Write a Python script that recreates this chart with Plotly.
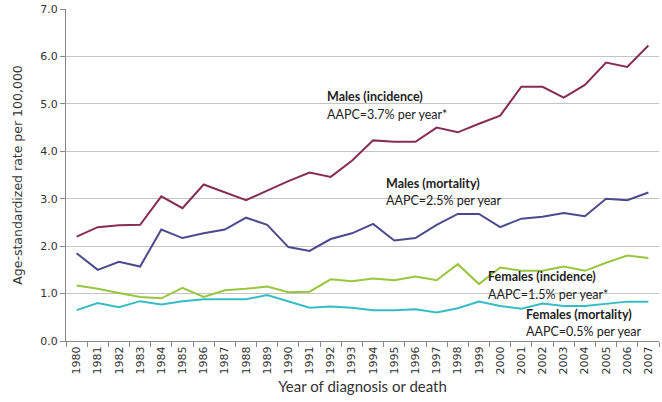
import plotly.graph_objects as go

years = [str(y) for y in range(1980, 2008)]
males_incidence = [2.20, 2.40, 2.44, 2.45, 3.05, 2.80, 3.30, 3.13, 2.97, 3.17, 3.37, 3.55, 3.46, 3.80, 4.23, 4.20, 4.20, 4.50, 4.40, 4.58, 4.75, 5.36, 5.36, 5.13, 5.40, 5.87, 5.78, 6.23]
males_mortality = [1.85, 1.50, 1.67, 1.57, 2.35, 2.17, 2.27, 2.35, 2.60, 2.45, 1.98, 1.90, 2.15, 2.27, 2.47, 2.12, 2.17, 2.45, 2.68, 2.68, 2.40, 2.58, 2.62, 2.70, 2.63, 3.00, 2.97, 3.13]
females_incidence = [1.17, 1.10, 1.01, 0.93, 0.90, 1.12, 0.93, 1.07, 1.10, 1.15, 1.03, 1.04, 1.30, 1.26, 1.32, 1.28, 1.36, 1.28, 1.62, 1.20, 1.55, 1.48, 1.48, 1.57, 1.48, 1.65, 1.80, 1.75]
females_mortality = [0.65, 0.80, 0.71, 0.84, 0.77, 0.84, 0.88, 0.88, 0.88, 0.97, 0.84, 0.70, 0.73, 0.70, 0.65, 0.65, 0.67, 0.60, 0.69, 0.83, 0.74, 0.68, 0.79, 0.74, 0.74, 0.78, 0.83, 0.83]
y_ticks = [0, 1, 2, 3, 4, 5, 6, 7]
y_tick_labels = ["0.0", "1.0", "2.0", "3.0", "4.0", "5.0", "6.0", "7.0"]

series = [
    ("Males (incidence)", males_incidence, "#862d55"),
    ("Males (mortality)", males_mortality, "#4b4a8e"),
    ("Females (incidence)", females_incidence, "#98c63e"),
    ("Females (mortality)", females_mortality, "#36bcc6"),
]

fig = go.Figure()
for name, vals, col in series:
    fig.add_trace(go.Scatter(x=years, y=vals, mode="lines", name=name,
                             line=dict(color=col, width=2)))

labels = [
    ("<b>Males (incidence)</b>", 0.437, 0.737),
    ("AAPC=3.7% per year*", 0.437, 0.683),
    ("<b>Males (mortality)</b>", 0.536, 0.473),
    ("AAPC=2.5% per year", 0.536, 0.422),
    ("<b>Females (incidence)</b>", 0.708, 0.195),
    ("AAPC=1.5% per year*", 0.708, 0.141),
    ("<b>Females (mortality)</b>", 0.772, 0.081),
    ("AAPC=0.5% per year", 0.772, 0.030),
]
for txt, x, y in labels:
    fig.add_annotation(text=txt, x=x, y=y, xref="paper", yref="paper",
                       xanchor="left", yanchor="middle", showarrow=False,
                       font=dict(family="Lato", size=12.5, color="#222222"))

fig.update_layout(
    width=662, height=402,
    margin=dict(l=66, r=3, t=7, b=61),
    paper_bgcolor="white", plot_bgcolor="white",
    showlegend=False,
    font=dict(family="DejaVu Sans", size=11, color="#333333"),
)
fig.update_xaxes(
    type="category", range=[-0.5, 27.5],
    tickangle=-90, tickson="boundaries", ticks="outside", ticklen=5,
    tickcolor="#888888", showline=True, linecolor="#888888", linewidth=1,
    showgrid=False, tickfont=dict(family="DejaVu Sans", size=11, color="#333333"),
    title=dict(text="Year of diagnosis or death", standoff=8,
               font=dict(family="Lato", size=15, color="#333333")),
)
fig.update_yaxes(
    range=[0, 7], tickvals=y_ticks, ticktext=y_tick_labels,
    ticks="outside", ticklen=5, tickcolor="#888888",
    showline=True, linecolor="#888888", linewidth=1,
    showgrid=True, gridcolor="#c4c4c4", gridwidth=1, zeroline=False,
    tickfont=dict(family="DejaVu Sans", size=11, color="#333333"),
    title=dict(text="Age-standardized rate per 100,000", standoff=14,
               font=dict(family="DejaVu Sans", size=12.5, color="#333333")),
)

fig.write_html("out.html", config={"displayModeBar": False},
               post_script="document.body.style.margin='0';document.body.style.padding='0';")
